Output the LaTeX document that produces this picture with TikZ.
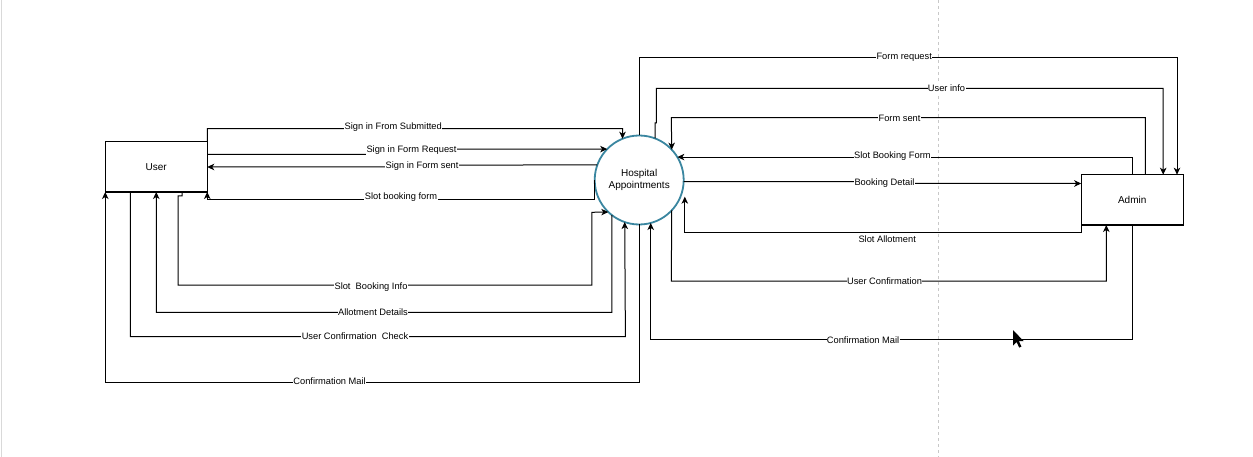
\documentclass[tikz,border=0pt]{standalone}
\usepackage{fontspec}
\setmainfont{Liberation Sans}
\usetikzlibrary{arrows.meta,calc}
\definecolor{teal1}{RGB}{58,134,160}
\definecolor{pagegrey}{RGB}{200,200,200}
\begin{document}
\begin{tikzpicture}[x=1pt,y=-1pt,
  box/.style={draw=black,line width=1.1pt,rectangle,outer sep=0pt,inner sep=0pt,
    minimum width=102pt,minimum height=50.3pt,font=\fontsize{10}{12}\selectfont},
  proc/.style={draw=teal1,line width=1.8pt,circle,outer sep=0pt,inner sep=0pt,
    minimum size=89pt,align=center,font=\fontsize{10}{12}\selectfont},
  flow/.style={draw=black,line width=1pt,-{Stealth[length=7pt,width=6.5pt,inset=2pt]}},
  lbl/.style={fill=white,inner sep=0.4pt,font=\fontsize{9.3}{11}\selectfont,
    text height=6.9pt,text depth=2pt}]
\useasboundingbox (0,0) rectangle (1253,457);
\fill[white] (0,0) rectangle (1253,457);
% page edge and page break
\draw[line width=1.5pt,color=pagegrey!70] (1.5,0) -- (1.5,457);
\draw[line width=0.8pt,color=pagegrey,dash pattern=on 3pt off 3pt] (938.6,0) -- (938.6,457);

% nodes
\node[box] (user) at (156.25,166.85) {User};
\node[box] (admin) at (1132.2,199.85) {Admin};
\node[proc] (hosp) at (639.2,180) {Hospital\\Appointments};

% left side flows
\draw[flow] (user.north east) |- (622.5,128.7) -- (hosp.112);
\node[lbl] (l1) at (393.2,126.7) {Sign in From Submitted};

\draw[flow] (user.east |- 0,154.3) -- (411,154.3) -- (411,149.3) -- (hosp.136.4);
\node[lbl] (l2) at (411.5,150.5) {Sign in Form Request};

\draw[flow] (hosp.160.7) -- (422,165.3) -- (422,167) -- (user.east |- 0,167);
\node[lbl] (l3) at (422,165.7) {Sign in Form sent};

\draw[flow] (hosp.west) -- (hosp.west |- 0,199.3) -| (user.south east);
\node[lbl] (l4) at (401,197) {Slot booking form};

\draw[flow] (182,0 |- user.south) -- (182,196) -- (178.2,196) -- (178.2,285) -- (591.8,285) -- (591.8,212.3) -- (hosp.226.5);
\node[lbl] (l5) at (371,287) {Slot\ \ Booking Info};

\draw[flow] (hosp.232) -- (611.8,312.3) -| (user.south);
\node[lbl] (l6) at (373,313.5) {Allotment Details};

\draw[flow] (130.4,0 |- user.south) -- (130.4,336.7) -- (625.4,336.7) -- (hosp.251.9);
\node[lbl] (l7) at (355,337) {User Confirmation\ \ Check};

\draw[flow] (hosp.south) -- (hosp.south |- 0,382) -| (user.south west);
\node[lbl] (l8) at (329.6,382) {Confirmation Mail};

% right side flows
\draw[flow] (hosp.north) -- (hosp.north |- 0,57.3) -| (1177,0 |- admin.north);
\node[lbl] (r1) at (904.2,57) {Form request};

\draw[flow] (hosp.69.1) -- (655.1,123) -- (656.3,123) -- (656.3,88.3) -| (1163.2,0 |- admin.north);
\node[lbl] (r2) at (946.5,89.3) {User info};

\draw[flow] (1145.4,0 |- admin.north) |- (671.3,117.7) -- (hosp.43.8);
\node[lbl] (r3) at (899.5,119.3) {Form sent};

\draw[flow] (admin.north) |- (hosp.31.6);
\node[lbl] (r4) at (892.4,156.3) {Slot Booking Form};

\draw[flow] (hosp.-2.2) -- (884.5,181.7) -- (884.5,183.5) -- (admin.west |- 0,183.5);
\node[lbl] (r5) at (884.5,183.3) {Booking Detail};

\draw[flow] (admin.west) |- (684.8,232.3) -- ($(hosp.east)+(1.1,16.7)$);
\node[lbl] (r6) at (887.2,240) {Slot Allotment};

\draw[flow] (hosp.-43.8) -- (671.3,281) -| (1106.3,0 |- admin.south);
\node[lbl] (r7) at (884.5,282.3) {User Confirmation};

\draw[flow] (admin.south) -- (admin.south |- 0,339.3) -| (hosp.-75.4);
\node[lbl] (r8) at (863.1,341.3) {Confirmation Mail};

% mouse pointer
\fill[black] (1013,330) -- (1013,345.5) -- (1016.6,342) -- (1019.2,347.6) -- (1021.4,346.6) -- (1018.9,341.1) -- (1023.6,341.1) -- cycle;
\end{tikzpicture}
\end{document}
